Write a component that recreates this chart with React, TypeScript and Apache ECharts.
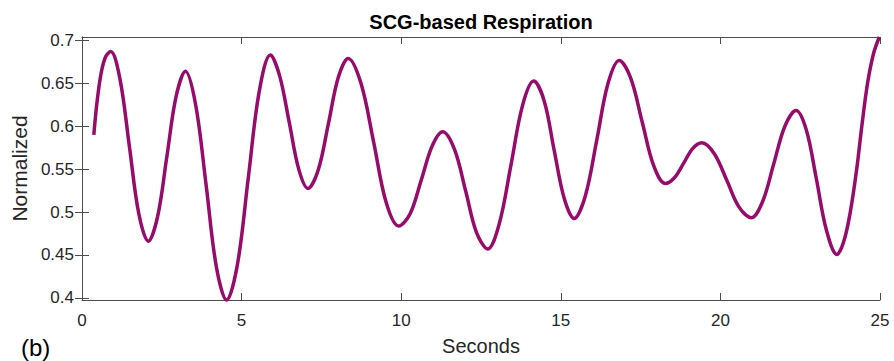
import React, { useEffect, useRef } from "react";
import * as echarts from "echarts";

const seconds = [
  0.37, 0.47, 0.6, 0.74, 0.9, 1.19, 1.485, 1.78, 2.08, 2.37, 2.66, 2.95, 3.24, 3.56, 3.89, 4.21,
  4.53, 4.87, 5.21, 5.55, 5.9, 6.19, 6.49, 6.79, 7.08, 7.4, 7.72, 8.03, 8.34, 8.74, 9.14, 9.53,
  9.92, 10.28, 10.63, 10.97, 11.3, 11.67, 12.02, 12.36, 12.71, 13.07, 13.44, 13.8, 14.15, 14.48,
  14.79, 15.11, 15.42, 15.77, 16.13, 16.48, 16.83, 17.19, 17.55, 17.91, 18.27, 18.56, 18.85,
  19.13, 19.42, 19.81, 20.2, 20.58, 20.97, 21.32, 21.67, 22.02, 22.37, 22.69, 23.0, 23.32, 23.65,
  23.86, 24.07, 24.27, 24.43, 24.61, 24.8, 24.98,
];

const normalized = [
  0.59, 0.628, 0.662, 0.681, 0.687, 0.655, 0.5765, 0.498, 0.466, 0.495, 0.565, 0.635, 0.664, 0.625,
  0.531, 0.436, 0.3975, 0.439, 0.54, 0.64, 0.683, 0.659, 0.605, 0.55, 0.5275, 0.549, 0.603, 0.657,
  0.679, 0.65, 0.581, 0.511, 0.4836, 0.498, 0.5375, 0.577, 0.5936, 0.573, 0.5245, 0.476, 0.457,
  0.486, 0.555, 0.624, 0.6526, 0.6295, 0.5725, 0.5155, 0.4925, 0.519, 0.5845, 0.65, 0.6767, 0.656,
  0.605, 0.554, 0.5333, 0.54, 0.557, 0.574, 0.5808, 0.568, 0.537, 0.506, 0.4934, 0.512, 0.556, 0.6,
  0.6184, 0.596, 0.54, 0.479, 0.4506, 0.465, 0.5, 0.55, 0.6, 0.65, 0.685, 0.704,
];

const yTicks = [0.4, 0.45, 0.5, 0.55, 0.6, 0.65, 0.7];
const xTicks = [0, 5, 10, 15, 20, 25];

const titleText = "SCG-based Respiration";
const xName = "Seconds";
const yName = "Normalized";
const panelLabel = "(b)";

const FONT = "'Liberation Sans', Arial, Helvetica, sans-serif";
const AXIS_COLOR = "#4d4d4d";
const LABEL_COLOR = "#262626";
const LINE_COLOR = "#970b6b";

export default function App() {
  const ref = useRef<HTMLDivElement>(null);

  useEffect(() => {
    if (!ref.current) return;
    const chart = echarts.init(ref.current, null, { renderer: "svg" });

    const xMin = xTicks[0];
    const xMax = xTicks[xTicks.length - 1];
    const yMin = 0.3975;
    const yMax = 0.704;

    const commonLine = { show: true, lineStyle: { color: AXIS_COLOR, width: 1 } };

    chart.setOption({
      animation: false,
      textStyle: { fontFamily: FONT },
      grid: { left: 82, right: 14, top: 37, bottom: 61, containLabel: false },
      graphic: [
        {
          type: "text",
          x: 481,
          y: 22,
          style: {
            text: titleText,
            font: `bold 20px ${FONT}`,
            fill: "#000",
            textAlign: "center",
            textVerticalAlign: "middle",
          },
        },
        {
          type: "text",
          x: 21,
          y: 335,
          style: {
            text: panelLabel,
            font: `24px ${FONT}`,
            fill: "#000",
            textAlign: "left",
            textVerticalAlign: "top",
          },
        },
      ],
      xAxis: [
        {
          type: "value",
          position: "bottom",
          min: xMin,
          max: xMax,
          interval: 5,
          axisLine: commonLine,
          axisTick: { show: true, inside: true, length: 7, lineStyle: { color: AXIS_COLOR } },
          axisLabel: { fontSize: 17, color: LABEL_COLOR, margin: 12, fontFamily: FONT },
          splitLine: { show: false },
          name: xName,
          nameLocation: "middle",
          nameGap: 36,
          nameTextStyle: { fontSize: 20, color: LABEL_COLOR, fontFamily: FONT },
        },
        {
          type: "value",
          position: "top",
          min: xMin,
          max: xMax,
          interval: 5,
          axisLine: commonLine,
          axisTick: { show: true, inside: true, length: 7, lineStyle: { color: AXIS_COLOR } },
          axisLabel: { show: false },
          splitLine: { show: false },
        },
      ],
      yAxis: [
        {
          type: "value",
          position: "left",
          min: yMin,
          max: yMax,
          axisLine: commonLine,
          axisTick: {
            show: true,
            inside: true,
            length: 7,
            customValues: yTicks,
            lineStyle: { color: AXIS_COLOR },
          },
          axisLabel: {
            fontSize: 17,
            color: LABEL_COLOR,
            margin: 8,
            fontFamily: FONT,
            customValues: yTicks,
            formatter: (v: number) => String(+Number(v).toFixed(2)),
          },
          splitLine: { show: false },
          name: yName,
          nameLocation: "middle",
          nameRotate: 90,
          nameGap: 50,
          nameTextStyle: { fontSize: 21, color: LABEL_COLOR, fontFamily: FONT },
        },
        {
          type: "value",
          position: "right",
          min: yMin,
          max: yMax,
          axisLine: commonLine,
          axisTick: {
            show: true,
            inside: true,
            length: 7,
            customValues: yTicks,
            lineStyle: { color: AXIS_COLOR },
          },
          axisLabel: { show: false, customValues: yTicks },
          splitLine: { show: false },
        },
      ],
      series: [
        {
          type: "line",
          xAxisIndex: 0,
          yAxisIndex: 0,
          data: seconds.map((s, i) => [s, normalized[i]]),
          showSymbol: false,
          symbol: "none",
          smooth: 0.35,
          clip: false,
          lineStyle: { color: LINE_COLOR, width: 3.5 },
        },
      ],
    });

    return () => chart.dispose();
  }, []);

  return (
    <div
      ref={ref}
      style={{ position: "fixed", left: 0, top: 0, width: 894, height: 361, background: "#fff" }}
    />
  );
}
